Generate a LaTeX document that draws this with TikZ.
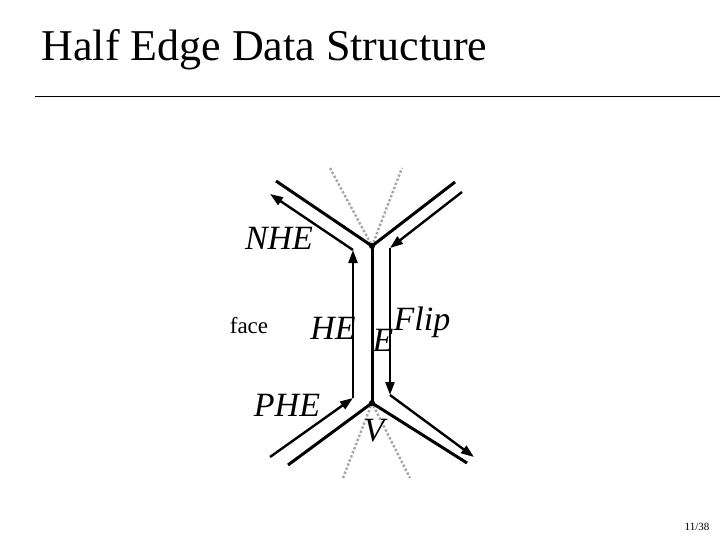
\documentclass[tikz,border=0pt]{standalone}
\usepackage{fontspec}
\setmainfont{Liberation Serif}
\usetikzlibrary{arrows.meta}

\begin{document}
\begin{tikzpicture}[x=1pt,y=-1pt,>/.tip={Triangle[length=13pt,width=9pt]},
	edgeline/.style={line width=3pt},
	halfedge/.style={line width=2.4pt,->},
	ghost/.style={gray!70,line width=2.4pt,dotted},
	lbl/.style={font=\fontsize{34}{34}\selectfont\itshape}]
	\useasboundingbox (0,0) rectangle (720,540);
	\node (title) [anchor=west,font=\fontsize{44}{44}\selectfont] at (38,50) {Half Edge Data Structure};
	\draw (35,96) -- (720,96);
	\node (page) [font=\fontsize{11}{11}\selectfont] at (697,527) {11/38};

	% vertices
	\coordinate (top) at (372,246);
	\coordinate (bot) at (372,403);
	\coordinate (ul) at (276,181);
	\coordinate (ur) at (455,182);
	\coordinate (ll) at (288,465);
	\coordinate (lr) at (467,463);
	\draw[ghost] (330,168) -- (top) -- (402,168);
	\draw[ghost] (343,478) -- (bot) -- (410,478);
	\draw[edgeline] (ul) -- (top) -- (ur);
	\draw[edgeline] (top) -- (bot);
	\draw[edgeline] (ll) -- (bot) -- (lr);
	\fill (top) circle (3);
	\fill (bot) circle (3);

	% half edges
	\coordinate (phe0) at (270,457);
	\coordinate (he0) at (353,398);
	\coordinate (he1) at (353,250);
	\coordinate (nhe1) at (270,194);
	\coordinate (fl0) at (462,192);
	\coordinate (fl1) at (390,248);
	\coordinate (fl2) at (390,395);
	\coordinate (fl3) at (474,457);
	\draw[halfedge] (phe0) -- (he0);
	\draw[halfedge] (he0) -- (he1);
	\draw[halfedge] (he1) -- (nhe1);
	\draw[halfedge] (fl0) -- (fl1);
	\draw[halfedge] (fl1) -- (fl2);
	\draw[halfedge] (fl2) -- (fl3);

	\node (nhe) [lbl] at (279,238) {NHE};
	\node (he) [lbl] at (333,328) {HE};
	\node (e) [lbl] at (383,340) {E};
	\node (flip) [lbl] at (422,322) {Flip};
	\node (phe) [lbl] at (287,405) {PHE};
	\node (v) [lbl] at (374,431) {V};
	\node (face) [font=\fontsize{23}{23}\selectfont] at (249,326) {face};
\end{tikzpicture}
\end{document}
